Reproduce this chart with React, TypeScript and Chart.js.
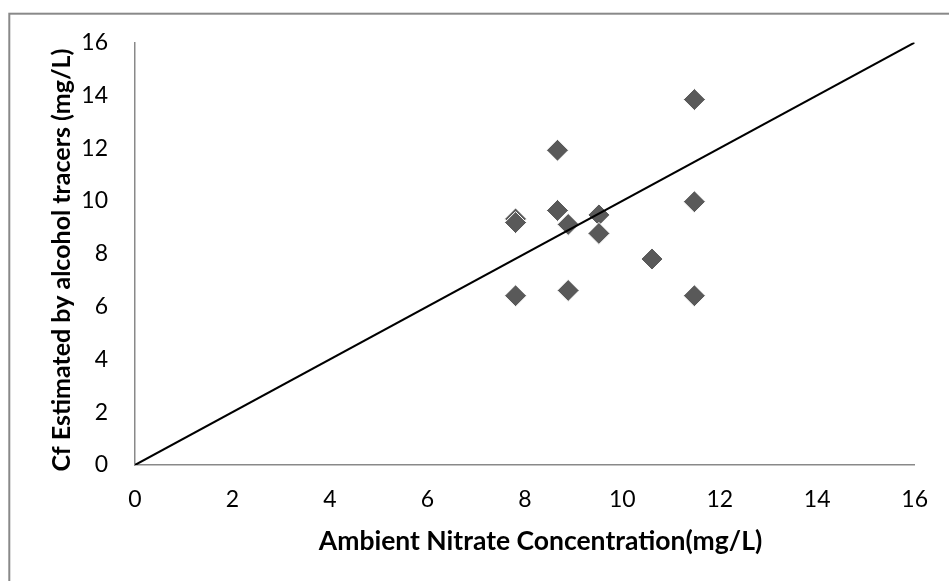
import { useEffect, useRef } from 'react';
import { Chart, registerables } from 'chart.js';

Chart.register(...registerables);

// Scatter data
const ambientNitrate = [11.48, 8.67, 7.81, 7.81, 8.67, 8.89, 9.52, 9.52, 11.48, 10.61, 7.81, 8.89, 11.48];
const estimatedCf = [13.84, 11.92, 9.32, 9.18, 9.64, 9.11, 9.47, 8.77, 9.97, 7.8, 6.41, 6.61, 6.41];

// 1:1 line
const lineX = [0, 16];
const lineY = [0, 16];

const axisMin = 0;
const axisMax = 16;
const axisStep = 2;

const xTitle = 'Ambient Nitrate Concentration(mg/L)';
const yTitle = 'Cf Estimated by alcohol tracers (mg/L)';

const FONT = 'Lato, "Open Sans", sans-serif';

const decorPlugin = {
  id: 'decor',
  beforeDraw(chart: any) {
    const ctx = chart.ctx;
    ctx.save();
    ctx.strokeStyle = '#898989';
    ctx.lineWidth = 2;
    ctx.strokeRect(9.3, 13.7, 3000, 3000);
    ctx.restore();
  },
  afterDraw(chart: any) {
    const ctx = chart.ctx;
    ctx.save();
    ctx.fillStyle = '#000000';
    ctx.textAlign = 'center';
    ctx.textBaseline = 'alphabetic';
    ctx.font = `bold 26.5px ${FONT}`;
    ctx.fillText(xTitle, 540.5, 550);
    ctx.font = `bold 25px ${FONT}`;
    ctx.translate(70, 260);
    ctx.rotate(-Math.PI / 2);
    ctx.fillText(yTitle, 0, 0);
    ctx.restore();
  },
};

export default function App() {
  const canvasRef = useRef<HTMLCanvasElement | null>(null);

  useEffect(() => {
    document.body.style.margin = '0';
    const canvas = canvasRef.current;
    if (!canvas) return;
    const points = ambientNitrate.map((x, i) => ({ x, y: estimatedCf[i] }));
    const linePts = lineX.map((x, i) => ({ x, y: lineY[i] }));
    const chart = new Chart(canvas, {
      type: 'scatter',
      data: {
        datasets: [
          {
            type: 'line',
            label: '1:1',
            data: linePts,
            borderColor: '#000000',
            borderWidth: 2,
            pointRadius: 0,
            fill: false,
          } as any,
          {
            label: 'Cf',
            data: points,
            pointStyle: 'rectRot',
            pointRadius: 11,
            pointHoverRadius: 11,
            backgroundColor: '#595959',
            borderColor: '#ffffff',
            borderWidth: 1,
          },
        ],
      },
      options: {
        responsive: false,
        animation: false,
        layout: { padding: { top: 42.5, right: 28.5, bottom: 0, left: 0 } },
        plugins: {
          legend: { display: false },
          tooltip: { enabled: false },
        },
        scales: {
          x: {
            type: 'linear',
            min: axisMin,
            max: axisMax,
            ticks: {
              stepSize: axisStep,
              padding: 21,
              color: '#000000',
              font: { family: FONT, size: 23 },
            },
            grid: { display: false, drawTicks: false },
            border: { display: true, color: '#898989', width: 1.5 },
            afterFit: (scale: any) => {
              scale.height = 116;
            },
          },
          y: {
            type: 'linear',
            min: axisMin,
            max: axisMax,
            ticks: {
              stepSize: axisStep,
              padding: 27,
              color: '#000000',
              font: { family: FONT, size: 23 },
            },
            grid: { display: false, drawTicks: false },
            border: { display: true, color: '#898989', width: 1.5 },
            afterFit: (scale: any) => {
              scale.width = 135;
            },
          },
        },
      },
      plugins: [decorPlugin],
    });
    return () => chart.destroy();
  }, []);

  return (
    <div style={{ position: 'relative', width: 949, height: 581 }}>
      <canvas ref={canvasRef} width={949} height={581} />
    </div>
  );
}
